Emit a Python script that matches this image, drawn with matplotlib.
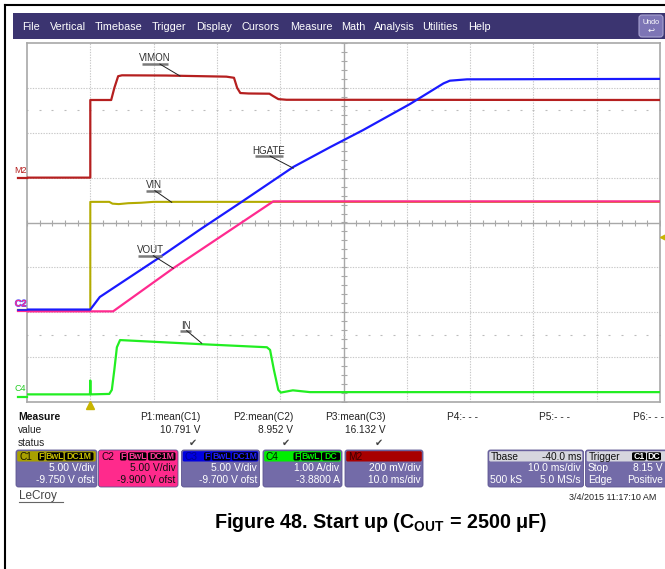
import matplotlib
matplotlib.use('Agg')
import matplotlib.pyplot as plt
from matplotlib.patches import FancyBboxPatch, Rectangle
import matplotlib.patheffects as pe
import numpy as np

plt.rcParams['font.family'] = ['Liberation Sans', 'DejaVu Sans']
plt.rcParams['mathtext.fontset'] = 'custom'
plt.rcParams['mathtext.rm'] = 'Liberation Sans'
plt.rcParams['mathtext.bf'] = 'Liberation Sans:bold'

# ---------------- data (time in ms relative to trigger) ----------------
vimon_t = [-10, 0, 0, 3.3, 3.8, 4.4, 5.0, 12.0, 21.5, 22.7, 23.2, 23.7, 25.0, 28.3, 28.8, 29.7, 31.0, 90]
vimon_mv = [0, 0, 346, 346, 400, 452, 456, 455, 450, 445, 400, 377, 375, 374, 365, 350, 347, 346]

vin_t = [-10, 0, 0, 3.0, 3.5, 4.5, 6.0, 8.0, 10.0, 90]
vin_v = [0, 0, 12.05, 12.05, 11.85, 11.8, 11.9, 11.95, 12.05, 12.05]

vout_t = [-10, 3.6, 13.1, 28.9, 90]
vout_v = [0, 0, 4.8, 12.25, 12.25]

hgate_t = [-10, 0, 1.5, 10.5, 17.3, 23.7, 32.1, 37.9, 43.1, 50.5, 55.8, 56.8, 59.5, 90]
hgate_v = [0, 0, 1.4, 5.6, 8.9, 11.9, 15.9, 18.1, 20.0, 22.9, 25.2, 25.5, 25.65, 25.7]

in_t = [-10, -0.05, 0, 0.05, 3.0, 3.4, 3.8, 4.2, 4.7, 17.3, 27.9, 28.4, 29.0, 29.7, 30.1, 32.0, 34.7, 90]
in_a = [0.05, 0.05, 0.36, 0.05, 0.06, 0.15, 0.6, 1.1, 1.26, 1.17, 1.10, 1.04, 0.6, 0.15, 0.09, 0.14, 0.10, 0.10]

# channel settings (scale per div, offset)
c1_scale, c1_ofs = 5.0, -9.75
c2_scale, c2_ofs = 5.0, -9.90
c3_scale, c3_ofs = 5.0, -9.70
c4_scale, c4_ofs = 1.0, -3.88
m2_scale, m2_pos = 200.0, 1.0
trig_level = 8.15

menu_items = ["File", "Vertical", "Timebase", "Trigger", "Display", "Cursors",
              "Measure", "Math", "Analysis", "Utilities", "Help"]
menu_x = [22, 50, 95, 152, 196, 242, 290, 341, 374, 422, 468]

meas_names = ["P1:mean(C1)", "P2:mean(C2)", "P3:mean(C3)", "P4:- - -", "P5:- - -", "P6:- - -"]
meas_vals = ["10.791 V", "8.952 V", "16.132 V", "", "", ""]
meas_ok = [True, True, True, False, False, False]

def div(vals, scale, ofs):
    return (np.asarray(vals, float) + ofs) / scale

W, H = 665, 569
fig = plt.figure(figsize=(W / 100, H / 100), dpi=100)
fig.patch.set_facecolor('white')
ov = fig.add_axes([0, 0, 1, 1])
ov.set_xlim(0, W); ov.set_ylim(H, 0); ov.axis('off')
ov.set_zorder(1)

GX0, GX1, GY0, GY1 = 27, 660, 43, 402
ax = fig.add_axes([GX0 / W, 1 - GY1 / H, (GX1 - GX0) / W, (GY1 - GY0) / H])
ax.set_zorder(2)
ax.set_xlim(-10, 90); ax.set_ylim(-4, 4)
ax.set_xticks([]); ax.set_yticks([])
for s in ax.spines.values():
    s.set_color('#a8a8a8'); s.set_linewidth(1.2)

gcol = '#c8c8c8'
for k in range(1, 10):
    x = -10 + 10 * k
    if k == 5:
        ax.axvline(x, color='#a8a8a8', lw=1.0, zorder=1)
    else:
        ax.axvline(x, color=gcol, lw=0.8, ls=(0, (1.2, 1.2)), zorder=1)
for j in range(-3, 4):
    if j == 0:
        ax.axhline(0, color='#a8a8a8', lw=1.0, zorder=1)
    else:
        ax.axhline(j, color=gcol, lw=0.8, ls=(0, (1.2, 1.2)), zorder=1)
tx = np.arange(-10, 90.01, 2.0)
ax.plot(tx, np.zeros_like(tx), ls='none', marker='|', ms=4, mew=0.8, color='#a8a8a8', zorder=1)
ty = np.arange(-4, 4.01, 0.2)
ax.plot(np.full_like(ty, 40), ty, ls='none', marker='_', ms=4, mew=0.8, color='#a8a8a8', zorder=1)
for yy in (2.5, -2.5):
    ax.plot(tx, np.full_like(tx, yy), ls='none', marker='_', ms=1.3, mew=0.8, color='#bcbcbc', zorder=1)

# traces
col_m2, col_c1, col_c2, col_c3, col_c4 = '#b51f1f', '#b3ab00', '#ff2a8f', '#1a1aff', '#22ee22'
ax.plot(vimon_t, (np.asarray(vimon_mv) / m2_scale) + m2_pos, color=col_m2, lw=1.6, zorder=3)
ax.plot(vin_t, div(vin_v, c1_scale, c1_ofs), color=col_c1, lw=1.5, zorder=3)
ax.plot(in_t, div(in_a, c4_scale, c4_ofs), color=col_c4, lw=1.6, zorder=3)
ax.plot(vout_t, div(vout_v, c2_scale, c2_ofs), color=col_c2, lw=1.6, zorder=4)
ax.plot(hgate_t, div(hgate_v, c3_scale, c3_ofs), color=col_c3, lw=1.6, zorder=5)

# callouts
def callout(txt, tx_, ty_, ux0, ux1, uy, l0, l1):
    ax.text(tx_, ty_, txt, ha='center', va='center', fontsize=7, color='#303030', zorder=6)
    ax.plot([ux0, ux1], [uy, uy], color='#7a7a7a', lw=1.8, solid_capstyle='butt', zorder=6)
    ax.plot([l0[0], l1[0]], [l0[1], l1[1]], color='#202020', lw=0.7, zorder=6)

callout("VIMON", 10.22, 3.66, 8.17, 12.27, 3.53, (11.0, 3.53), (14.17, 3.265))
callout("HGATE", 28.2, 1.60, 26.0, 30.45, 1.48, (28.4, 1.48), (32.07, 1.21))
callout("VIN", 10.02, 0.84, 8.8, 11.17, 0.71, (10.2, 0.71), (12.86, 0.45))
callout("VOUT", 9.43, -0.62, 7.54, 11.33, -0.74, (9.95, -0.74), (13.11, -1.02))
callout("IN", 15.04, -2.31, 14.17, 15.9, -2.41, (15.23, -2.41), (17.6, -2.69))

# ground markers on the left
mx = [-11.42, -10.0]
ax.plot(mx, [m2_pos, m2_pos], color=col_m2, lw=1.6, clip_on=False, zorder=3)
ax.text(-11.0, m2_pos + 0.16, "M2", color=col_m2, fontsize=6.5, ha='center', va='center', clip_on=False)
z1 = c1_ofs / c1_scale; z2 = c2_ofs / c2_scale; z3 = c3_ofs / c3_scale; z4 = c4_ofs / c4_scale
ax.plot(mx, [z1, z1], color=col_c1, lw=1.6, clip_on=False, zorder=3)
ax.plot(mx, [z2, z2], color=col_c2, lw=1.6, clip_on=False, zorder=3)
ax.plot(mx, [z3, z3], color=col_c3, lw=1.2, clip_on=False, zorder=3)
# C2 label drawn over the C3 label (they coincide on the scope); shown as one text with a blue edge
ax.text(-11.0, z2 + 0.17, "C2", color=col_c2, fontsize=6.5, ha='center', va='center', clip_on=False,
        path_effects=[pe.withStroke(linewidth=0.9, foreground='#6060ff'), pe.Normal()])
ax.plot(mx, [z4, z4], color=col_c4, lw=1.6, clip_on=False, zorder=3)
ax.text(-11.0, z4 + 0.17, "C4", color='#22cc22', fontsize=6.5, ha='center', va='center', clip_on=False)
# trigger markers
ax.plot(0, -4.07, marker='^', color='#c8b400', ms=5.5, clip_on=False, zorder=6)
ax.plot(90.55, (trig_level + c1_ofs) / c1_scale, marker='<', color='#c8b400', ms=5, clip_on=False, zorder=6)

# ---------------- frame and menu bar ----------------
ov.plot([5, W], [4.5, 4.5], color='black', lw=1.5)
ov.plot([5, 5], [4.5, H], color='black', lw=1.5)
ov.add_patch(Rectangle((13, 13), W - 13, 26, fc='#3b3470', ec='none'))
for name, x in zip(menu_items, menu_x):
    ov.text(x, 26.5, name, color='white', fontsize=7.8, ha='left', va='center')
ov.add_patch(FancyBboxPatch((639, 15), 24, 22, boxstyle='round,pad=0,rounding_size=3',
                            fc='#7d75b5', ec='#a8a2d0', lw=0.8))
ov.text(651, 22, "Undo", color='white', fontsize=5.2, ha='center', va='center')
ov.text(651, 31, "↩", color='white', fontsize=6, ha='center', va='center')

# ---------------- measure table ----------------
ov.text(18, 416.5, "Measure", fontsize=7.5, fontweight='bold', ha='left', va='center', color='#111111')
ov.text(18, 430, "value", fontsize=7.3, ha='left', va='center', color='#222222')
ov.text(18, 443, "status", fontsize=7.3, ha='left', va='center', color='#222222')
col_right = [200, 293, 386, 478, 570, 664]
for nm, vl, ok, xr in zip(meas_names, meas_vals, meas_ok, col_right):
    ov.text(xr, 416.5, nm, fontsize=7.3, ha='right', va='center', color='#222222')
    if vl:
        ov.text(xr, 430, vl, fontsize=7.3, ha='right', va='center', color='#222222')
    if ok:
        ov.text(xr - 7, 443, "✔", fontsize=7, ha='center', va='center', color='#444444',
                family='DejaVu Sans')

# ---------------- channel boxes ----------------
BODY = '#736ba8'
Y0, Y1 = 450, 487

def box(x0, x1, hdr, body, label, lab_col, tags, tag_col, l1, l2, txt_col, left1=None, left2=None):
    ov.add_patch(FancyBboxPatch((x0, Y0), x1 - x0, Y1 - Y0, boxstyle='round,pad=0,rounding_size=2.5',
                                fc=body, ec='#5c5490', lw=0.6))
    ov.add_patch(FancyBboxPatch((x0 + 1.2, Y0 + 1.2), x1 - x0 - 2.4, 10.3,
                                boxstyle='round,pad=0,rounding_size=1.5', fc=hdr, ec='none'))
    ov.text(x0 + 3, Y0 + 6.5, label, color=lab_col, fontsize=7.3, ha='left', va='center')
    for t, a, b in tags:
        ov.add_patch(FancyBboxPatch((a, Y0 + 2.3), b - a, 8.2, boxstyle='round,pad=0,rounding_size=1.5',
                                    fc='black', ec='none'))
        ov.text((a + b) / 2, Y0 + 6.6, t, color=tag_col, fontsize=6.3, ha='center', va='center',
                fontweight='bold')
    ov.text(x1 - 2.5, 468, l1, color=txt_col, fontsize=7.4, ha='right', va='center')
    ov.text(x1 - 2.5, 480, l2, color=txt_col, fontsize=7.4, ha='right', va='center')
    if left1:
        ov.text(x0 + 2.5, 468, left1, color=txt_col, fontsize=7.4, ha='left', va='center')
    if left2:
        ov.text(x0 + 2.5, 480, left2, color=txt_col, fontsize=7.4, ha='left', va='center')

box(16, 97, '#a8a000', BODY, "C1", '#1a1a00', [("F", 38, 44.5), ("BwL", 46, 63.5), ("DC1M", 65, 93.5)],
    '#c8c000', "5.00 V/div", "-9.750 V ofst", 'white')
box(98.5, 178, '#ff2a8c', '#ff2a8c', "C2", '#200010', [("F", 120, 126.5), ("BwL", 128, 146.5), ("DC1M", 148, 175.5)],
    '#ff3a98', "5.00 V/div", "-9.900 V ofst", '#101010')
box(181.5, 259.5, '#0000e0', BODY, "C3", '#000090', [("F", 204, 210.5), ("BwL", 212, 230.5), ("DC1M", 232, 257.5)],
    '#2020ff', "5.00 V/div", "-9.700 V ofst", 'white')
box(263, 342, '#00ee00', BODY, "C4", '#002000', [("F", 293.5, 300), ("BwL", 301, 321), ("DC", 322, 340)],
    '#00ee00', "1.00 A/div", "-3.8800 A", 'white')
box(345, 423, '#a80000', BODY, "M2", '#3a0000', [], 'white', "200 mV/div", "10.0 ms/div", 'white')
box(488, 583.5, '#d6d6de', BODY, "Tbase", '#111111', [], 'white', "10.0 ms/div", "5.0 MS/s", 'white',
    left2="500 kS")
ov.text(581.5, Y0 + 6.5, "-40.0 ms", color='#111111', fontsize=7.3, ha='right', va='center')
box(585.5, 668, '#d6d6de', BODY, "Trigger", '#111111', [("C1", 632, 646), ("DC", 647, 661)], 'white',
    "", "", 'white', left1="Stop", left2="Edge")
ov.text(662.5, 468, "8.15 V", color='white', fontsize=7.4, ha='right', va='center')
ov.text(662.5, 480, "Positive", color='white', fontsize=7.4, ha='right', va='center')

# ---------------- footer ----------------
ov.text(19, 495.5, "LeCroy", fontsize=8.5, color='#444444', ha='left', va='center')
ov.plot([19, 63], [502, 502], color='#666666', lw=0.8)
ov.text(656, 497, "3/4/2015 11:17:10 AM", fontsize=6.5, color='#222222', ha='right', va='center')
ov.text(381, 523, r"Figure 48. Start up (C$_{\mathbf{OUT}}$ = 2500 μF)", fontsize=14.2,
        fontweight='bold', ha='center', va='center', color='black')

fig.savefig('out.png', dpi=100)
